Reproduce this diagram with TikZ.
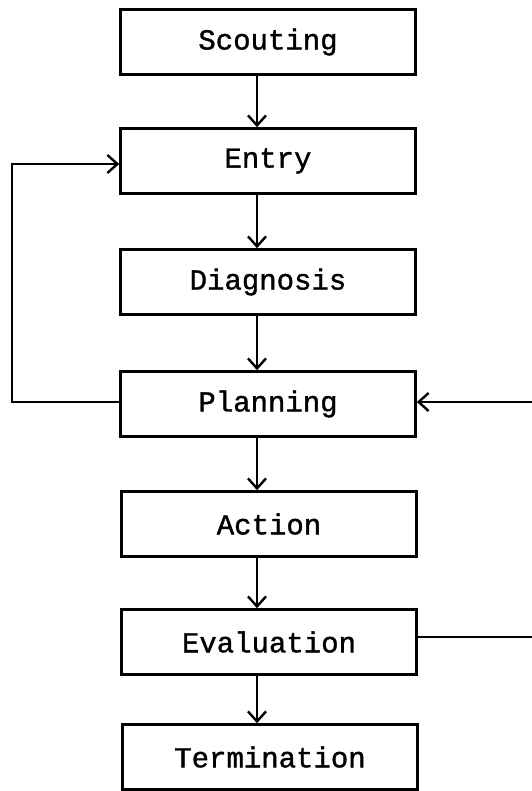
\documentclass[tikz,border=0pt]{standalone}
\usepackage{fontspec}
\newfontfamily\typed[FakeBold=1.2]{Liberation Mono}
\usetikzlibrary{arrows.meta,calc}
\begin{document}
\begin{tikzpicture}[x=1pt,y=-1pt,
  stage/.style={draw, line width=2.6pt, minimum width=295pt, minimum height=65pt,
    inner sep=0pt, font=\fontsize{29}{32}\selectfont\typed},
  flow/.style={line width=2.4pt, -{Straight Barb[length=10pt,width=18pt,line width=2.4pt]}},
  plain/.style={line width=2.4pt}]
\useasboundingbox (0,0) rectangle (531,791);
\fill[white] (0,0) rectangle (531,791);
\node[stage] (sc) at (268,42) {Scouting};
\node[stage] (en) at (268,161) {Entry};
\node[stage] (di) at (268,282) {Diagnosis};
\node[stage] (pl) at (268,404) {Planning};
\node[stage] (ac) at (269,524) {Action};
\node[stage] (ev) at (269,642) {Evaluation};
\node[stage] (te) at (270,757) {Termination};
\coordinate (ax) at (257,0);
\coordinate (lx) at (12,0);
\coordinate (rx) at (545,0);
\draw[flow] (sc.south -| ax) -- (en.north -| ax);
\draw[flow] (en.south -| ax) -- (di.north -| ax);
\draw[flow] (di.south -| ax) -- (pl.north -| ax);
\draw[flow] (pl.south -| ax) -- (ac.north -| ax);
\draw[flow] (ac.south -| ax) -- (ev.north -| ax);
\draw[flow] (ev.south -| ax) -- (te.north -| ax);
\draw[flow] ($(pl.west)+(0,-2)$) -| ($(lx |- en.west)+(0,3)$) -- ($(en.west)+(0,3)$);
\draw[flow] ($(ev.east)+(0,-5)$) -| ($(rx |- pl.east)+(0,-2)$) -- ($(pl.east)+(0,-2)$);
\end{tikzpicture}
\end{document}
